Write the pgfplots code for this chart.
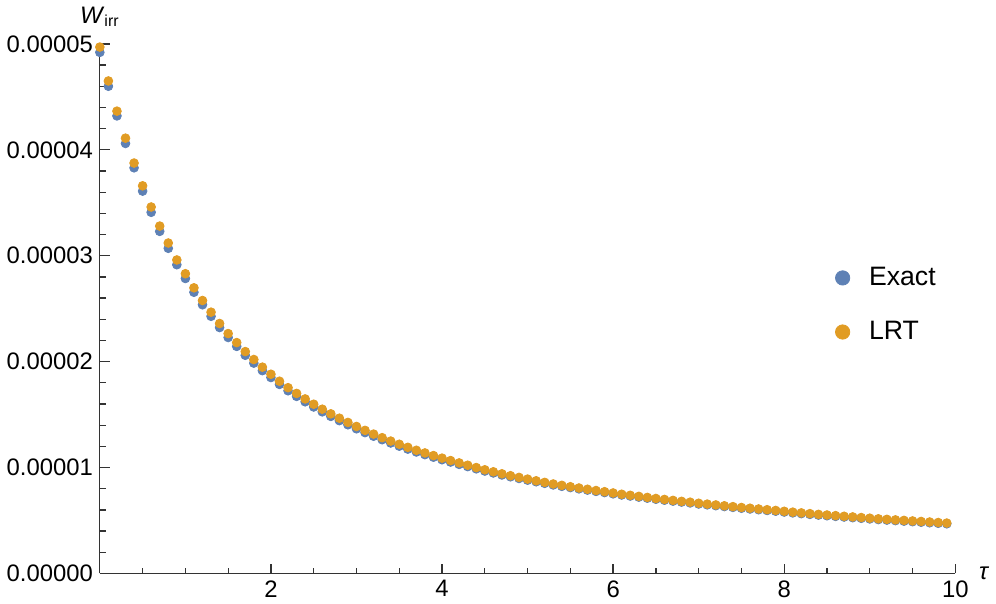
\documentclass[border=0pt]{standalone}
\usepackage{fontspec}
\setmainfont{Liberation Sans}
\usepackage{pgfplots}
\usepackage{pgfplotstable}
\pgfplotsset{compat=1.18}
\definecolor{mblue}{rgb}{0.368417,0.506779,0.709798}
\definecolor{morange}{rgb}{0.880722,0.611041,0.142051}
\newcommand{\fs}{\fontsize{12}{14}\selectfont}
\newcommand{\fl}{\fontsize{13.4}{15}\selectfont}

% tau, exact, LRT  (W_irr in units of 1e-5)
\pgfplotstableread{
t    exact  lrt
0.0  4.92   4.97
0.1  4.60   4.65
0.2  4.32   4.365
0.3  4.06   4.11
0.4  3.83   3.875
0.5  3.61   3.66
0.6  3.41   3.46
0.7  3.23   3.28
0.8  3.07   3.12
0.9  2.915  2.96
1.0  2.785  2.83
1.1  2.655  2.697
1.2  2.537  2.577
1.3  2.428  2.467
1.4  2.322  2.36
1.5  2.228  2.265
1.6  2.144  2.18
1.7  2.06   2.095
1.8  1.986  2.02
1.9  1.915  1.948
2.0  1.85   1.881
2.1  1.785  1.815
2.2  1.725  1.754
2.3  1.672  1.70
2.4  1.621  1.648
2.5  1.572  1.598
2.6  1.526  1.551
2.7  1.483  1.507
2.8  1.443  1.466
2.9  1.404  1.426
3.0  1.366  1.388
3.1  1.330  1.351
3.2  1.296  1.316
3.3  1.263  1.282
3.4  1.232  1.25
3.5  1.202  1.22
3.6  1.174  1.191
3.7  1.147  1.163
3.8  1.122  1.138
3.9  1.098  1.113
4.0  1.074  1.089
4.1  1.052  1.066
4.2  1.030  1.044
4.3  1.009  1.022
4.4  0.988  1.0
4.5  0.967  0.979
4.6  0.949  0.96
4.7  0.930  0.941
4.8  0.913  0.923
4.9  0.897  0.907
5.0  0.881  0.891
5.1  0.866  0.875
5.2  0.851  0.86
5.3  0.836  0.845
5.4  0.823  0.832
5.5  0.811  0.819
5.6  0.799  0.807
5.7  0.787  0.795
5.8  0.775  0.783
5.9  0.764  0.772
6.0  0.752  0.76
6.1  0.741  0.748
6.2  0.731  0.738
6.3  0.721  0.728
6.4  0.711  0.718
6.5  0.701  0.708
6.6  0.692  0.699
6.7  0.683  0.69
6.8  0.674  0.681
6.9  0.666  0.673
7.0  0.656  0.663
7.1  0.648  0.655
7.2  0.640  0.647
7.3  0.632  0.639
7.4  0.624  0.631
7.5  0.616  0.623
7.6  0.609  0.616
7.7  0.602  0.609
7.8  0.595  0.602
7.9  0.588  0.595
8.0  0.580  0.587
8.1  0.572  0.579
8.2  0.565  0.572
8.3  0.558  0.565
8.4  0.551  0.558
8.5  0.545  0.552
8.6  0.539  0.546
8.7  0.533  0.540
8.8  0.527  0.534
8.9  0.521  0.528
9.0  0.515  0.522
9.1  0.509  0.516
9.2  0.504  0.511
9.3  0.499  0.506
9.4  0.494  0.501
9.5  0.489  0.496
9.6  0.484  0.491
9.7  0.479  0.486
9.8  0.474  0.481
9.9  0.469  0.476
}\wirr

\begin{document}
\begin{tikzpicture}
\begin{axis}[
    scale only axis,
    width=430.5pt, height=266.5pt,
    xmin=0, xmax=10, ymin=0, ymax=5,
    axis lines*=left,
    axis line style={black!80, line width=0.65pt},
    every tick/.style={black!80, line width=0.65pt},
    tick align=inside,
    major tick length=5pt, minor tick length=3pt,
    xtick={2,4,6,8,10},
    minor xtick={0.5,1,1.5,2.5,3,3.5,4.5,5,5.5,6.5,7,7.5,8.5,9,9.5},
    ytick={0,1,2,3,4,5},
    yticklabels={0.00000,0.00001,0.00002,0.00003,0.00004,0.00005},
    minor y tick num=4,
    tick label style={font=\fs},
    /pgf/number format/assume math mode=true,
    xlabel={\textit{τ}},
    every axis x label/.style={at={(axis description cs:1,0)}, anchor=west, xshift=8.5pt, font=\fs},
    ylabel={\textit{W}\textsubscript{irr}},
    every axis y label/.style={at={(axis description cs:0,1)}, anchor=base, yshift=10.5pt, font=\fs},
    legend style={draw=none, fill=none, at={(0.859,0.507)}, anchor=west, font=\fl,
        row sep=12.5pt, inner sep=0pt,
        /tikz/every odd column/.append style={column sep=7.5pt}},
    legend cell align=left,
    legend image code/.code={\fill[#1] (0pt,0pt) circle (3.6pt);},
]
\addplot[only marks, mark=*, color=mblue, mark size=2.2pt,
    mark options={draw=none, fill=mblue}] table[x=t, y=exact] {\wirr};
\addlegendentry{Exact}
\addplot[only marks, mark=*, color=morange, mark size=2.2pt,
    mark options={draw=none, fill=morange}] table[x=t, y=lrt] {\wirr};
\addlegendentry{LRT}
\end{axis}
\end{tikzpicture}
\end{document}
